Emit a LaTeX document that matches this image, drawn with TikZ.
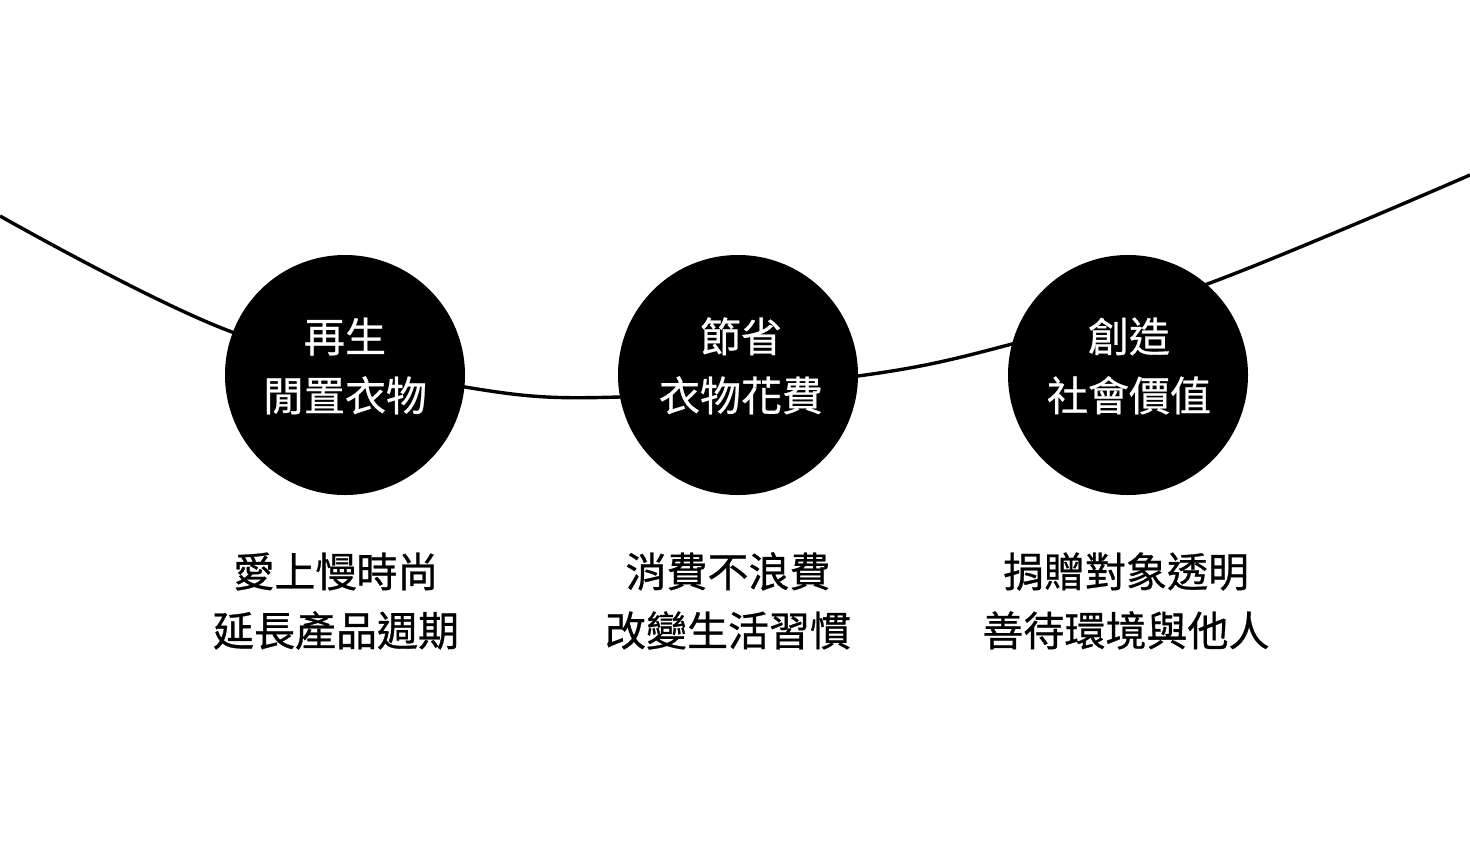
\documentclass[tikz,border=0pt]{standalone}
\usepackage{fontspec}
\newfontfamily\cjk[FakeBold=0.7]{Noto Sans CJK TC}
\begin{document}
\begin{tikzpicture}[x=1pt,y=-1pt,
  dot/.style={circle,fill=black,minimum size=240pt,inner sep=0pt},
  intxt/.style={anchor=base,text=white,font=\cjk\fontsize{41}{41}\selectfont,inner sep=0pt},
  outtxt/.style={anchor=base,text=black,font=\cjk\fontsize{41}{41}\selectfont,inner sep=0pt},
  curveline/.style={line width=3.4pt,black}]
\useasboundingbox (0,0) rectangle (1470,846);
% curve behind the circles
\coordinate (s) at (0,216);
\coordinate (e) at (1470,175);
\draw[curveline] plot[smooth,tension=0.6] coordinates {(0,216) (232,332) (465,387) (620,397) (858,376) (1012,344) (1210,283) (1470,175)};
% circles
\node[dot] (c1) at (345,375) {};
\node[dot] (c2) at (738,375) {};
\node[dot] (c3) at (1128,375) {};
% circle texts
\node[intxt] (t1a) at (345,352) {再生};
\node[intxt] (t1b) at (345,411) {閒置衣物};
\node[intxt] (t2a) at (741,352) {節省};
\node[intxt] (t2b) at (741,411) {衣物花費};
\node[intxt] (t3a) at (1129,352) {創造};
\node[intxt] (t3b) at (1129,411) {社會價值};
% captions
\node[outtxt] (b1a) at (336,587) {愛上慢時尚};
\node[outtxt] (b1b) at (336,646) {延長產品週期};
\node[outtxt] (b2a) at (728,587) {消費不浪費};
\node[outtxt] (b2b) at (728,646) {改變生活習慣};
\node[outtxt] (b3a) at (1126,587) {捐贈對象透明};
\node[outtxt] (b3b) at (1126,646) {善待環境與他人};
\end{tikzpicture}
\end{document}
